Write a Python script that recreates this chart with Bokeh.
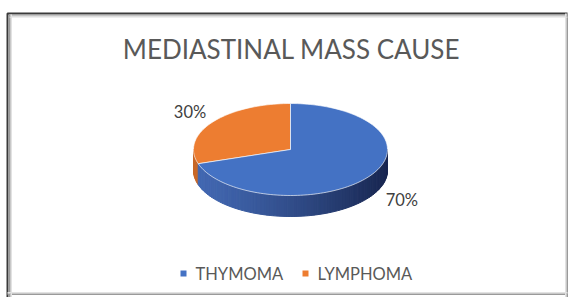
import math
from bokeh.plotting import figure
from bokeh.models import Range1d
from bokeh.core.properties import value
from bokeh.embed import file_html
from bokeh.resources import INLINE

# ---- data ----
categories = ["THYMOMA", "LYMPHOMA"]
values = [70, 30]
labels = ["70%", "30%"]
colors = ["#4472C4", "#ED7D31"]
title = "MEDIASTINAL MASS CAUSE"

W, H = 571, 297
p = figure(width=W, height=H, output_backend="svg", toolbar_location=None,
           x_range=Range1d(0, W), y_range=Range1d(H, 0),
           min_border=0, outline_line_color=None)
p.axis.visible = False
p.grid.visible = False
p.background_fill_color = "white"
p.border_fill_color = "white"

# ---- frame with shadow ----
p.line([7, 7, 567], [297, 13, 13], line_color="#3a3a3a", line_width=2)
for i, c in enumerate(["#9a9a9a", "#c8c8c8", "#e2e2e2"]):
    p.line([567 - i, 567 - i], [13, 297], line_color=c, line_width=1)
    p.line([9 + i, 9 + i], [14, 297], line_color=c, line_width=1)
    p.line([9, 567], [15 + i, 15 + i], line_color=c, line_width=1, line_alpha=0.6)
    p.line([7, 567], [294 - i, 294 - i], line_color=c, line_width=1)

# ---- title ----
p.text(x=[291], y=[48], text=[title], text_align="center", text_baseline="middle",
       text_font=value("Lato"), text_font_size="26px", text_color="#595959")

# ---- 3D pie geometry ----
cx, cy, a, b, depth = 290, 149, 97, 46, 21
total = sum(values)
# LYMPHOMA first, counter-clockwise from 12 o'clock
order = [1, 0]
spans = {}
start = 90.0
for k in order:
    ang = values[k] / total * 360.0
    spans[k] = (start, start + ang)
    start += ang


def pt(t, dy=0.0):
    r = math.radians(t)
    return cx + a * math.cos(r), cy - b * math.sin(r) + dy


def mix(c1, c2, f):
    return "#%02x%02x%02x" % tuple(int(round(c1[i] + (c2[i] - c1[i]) * f)) for i in range(3))


def slice_of(t):
    t = t % 360
    for k, (s0, s1) in spans.items():
        for off in (0, 360, -360):
            if s0 <= t + off < s1:
                return k
    return 0

# side wall (front half, 180..360 deg)
side_light = {0: (66, 104, 178), 1: (200, 104, 40)}
side_dark = {0: (24, 38, 80), 1: (120, 60, 22)}
n = 90
xs_side, ys_side, cs_side = [], [], []
for i in range(n):
    t0 = 180 + 180 * i / n
    t1 = 180 + 180 * (i + 1) / n
    k = slice_of((t0 + t1) / 2)
    x0, y0 = pt(t0)
    x1, y1 = pt(t1)
    f = ((x0 + x1) / 2 - (cx - a)) / (2 * a)
    f = f ** 1.3
    cs_side.append(mix(side_light[k], side_dark[k], f))
    xs_side.append([x0, x1, x1, x0])
    ys_side.append([y0, y1, y1 + depth, y0 + depth])
p.patches(xs_side, ys_side, fill_color=cs_side, line_color=cs_side, line_width=1)

# top faces
for k in order:
    s0, s1 = spans[k]
    m = max(4, int((s1 - s0) / 2))
    xs, ys = [cx], [cy]
    for j in range(m + 1):
        x, y = pt(s0 + (s1 - s0) * j / m)
        xs.append(x)
        ys.append(y)
    p.patch(xs, ys, fill_color=colors[k], line_color="white", line_width=0.8, line_alpha=0.8)

# ---- data labels ----
lab_r = {0: 1.24, 1: 1.28}
for k in order:
    s0, s1 = spans[k]
    mid = math.radians((s0 + s1) / 2)
    lx = cx + a * lab_r[k] * math.cos(mid) + (14 if math.cos(mid) > 0 else 0)
    ly = cy - b * lab_r[k] * math.sin(mid) + (depth * 0.8 if math.sin(mid) < 0 else -3)
    p.text(x=[lx], y=[ly], text=[labels[k]], text_align="center", text_baseline="middle",
           text_font=value("Lato"), text_font_size="16.5px", text_color="#404040")

# ---- legend ----
lx0 = 183
for k, cat in enumerate(categories):
    p.scatter(x=[lx0], y=[273], marker="square", size=6, fill_color=colors[k], line_color=None)
    p.text(x=[lx0 + 12], y=[273], text=[cat], text_align="left", text_baseline="middle",
           text_font=value("Lato"), text_font_size="16.5px", text_color="#595959")
    lx0 += 122

open("out.html", "w").write(file_html(p, INLINE))
